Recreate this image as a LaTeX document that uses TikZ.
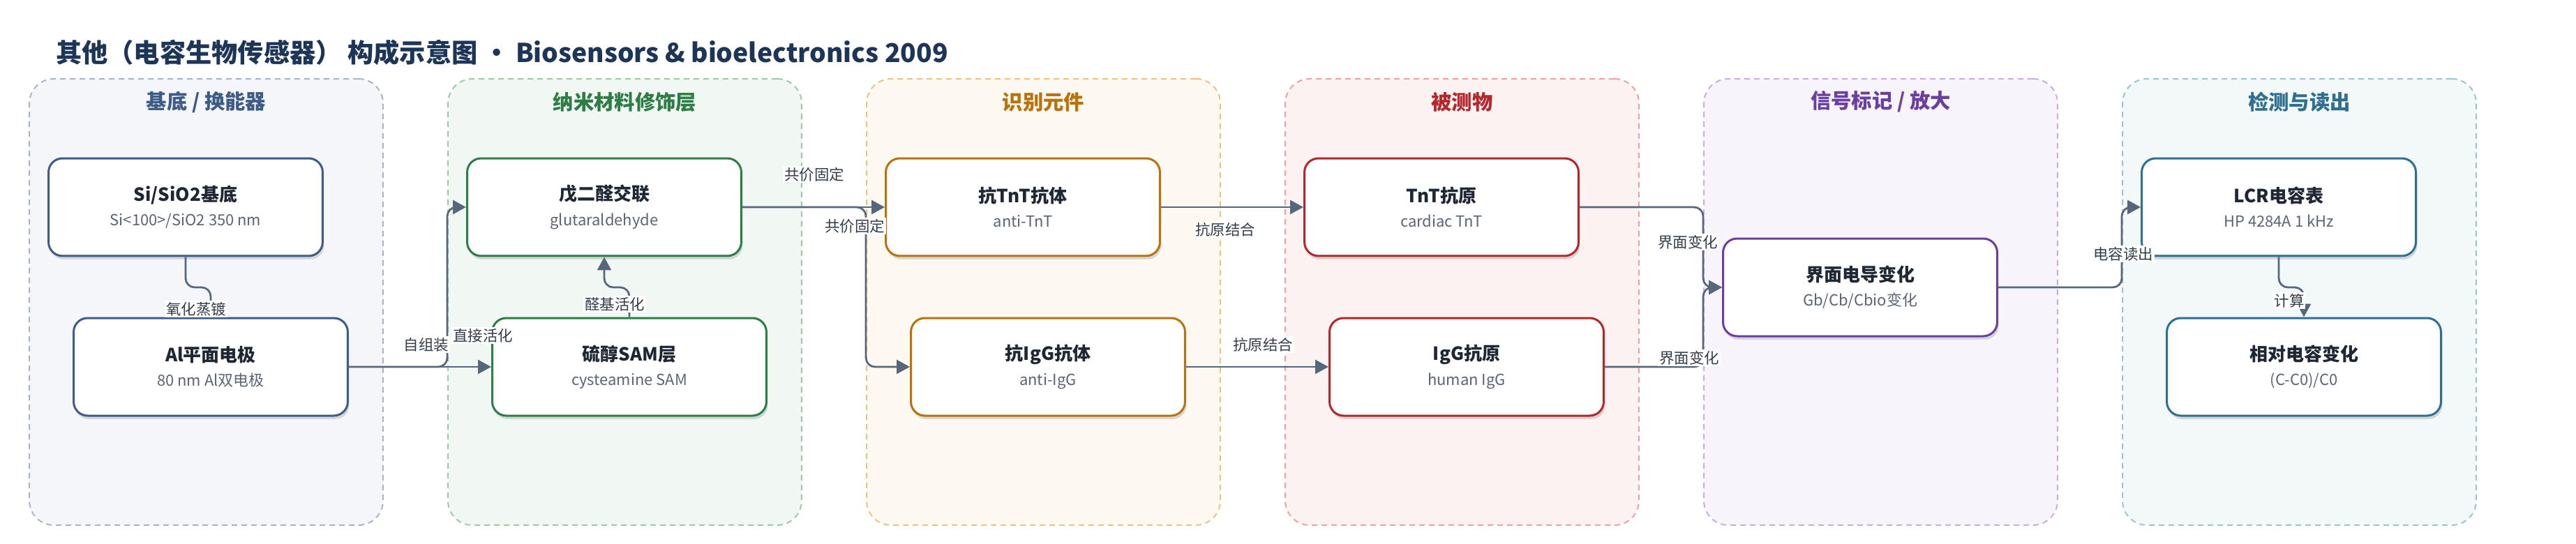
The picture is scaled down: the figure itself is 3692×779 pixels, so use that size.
\documentclass[tikz,border=0pt]{standalone}
\usepackage{fontspec}
\setmainfont{Noto Sans CJK SC}
\usetikzlibrary{arrows.meta,positioning,shadows}

\definecolor{ink}{HTML}{1E2733}
\definecolor{subgray}{HTML}{5B6576}
\definecolor{wire}{HTML}{56677C}
\definecolor{labink}{HTML}{333D4A}
\definecolor{headnavy}{HTML}{1D3557}
% group colours: line / fill / text
\definecolor{baseline}{HTML}{A8B5C8}\definecolor{basefill}{HTML}{F4F6FA}\definecolor{basetext}{HTML}{3E5C86}
\definecolor{nanoline}{HTML}{9DCBA8}\definecolor{nanofill}{HTML}{F1F8F3}\definecolor{nanotext}{HTML}{2E7D46}
\definecolor{recline}{HTML}{EBC287}\definecolor{recfill}{HTML}{FDF8F0}\definecolor{rectext}{HTML}{B8720E}
\definecolor{anaine}{HTML}{EBA3A3}\definecolor{anafill}{HTML}{FDF2F2}\definecolor{anatext}{HTML}{B3282C}
\definecolor{sigline}{HTML}{C8AEE3}\definecolor{sigfill}{HTML}{F7F4FB}\definecolor{sigtext}{HTML}{6B3FA0}
\definecolor{detline}{HTML}{9EC4CF}\definecolor{detfill}{HTML}{F3F8F9}\definecolor{dettext}{HTML}{2F6F8F}

\newcommand\subline{\fontsize{12.5pt}{20pt}\selectfont\color{subgray}}

\tikzset{
  group/.style n args={2}{draw=#1, fill=#2, line width=0.04cm, dash pattern=on 0.16cm off 0.12cm,
    rounded corners=0.7cm, minimum width=10.14cm, minimum height=12.8cm},
  gtitle/.style={text=#1, font=\fontsize{16.7pt}{18pt}\selectfont\bfseries},
  card/.style={draw=#1, fill=white, line width=0.06cm, rounded corners=0.4cm,
    minimum width=7.86cm, minimum height=2.8cm, align=center, text=ink,
    font=\fontsize{14.8pt}{20pt}\selectfont,
    drop shadow={shadow xshift=0.04cm, shadow yshift=-0.1cm, opacity=0.13, fill=black}},
  flow/.style={draw=wire, line width=0.055cm, rounded corners=0.26cm,
    -{Triangle[length=0.38cm,width=0.4cm]}},
  elabel/.style={fill=white, text=labink, inner sep=1pt, font=\fontsize{12.2pt}{14pt}\selectfont}
}

\begin{document}
\begin{tikzpicture}[x=0.02cm, y=-0.02cm]
\useasboundingbox (0,0) rectangle (3692,779);

\node[anchor=west, text=headnavy, font=\fontsize{21.2pt}{24pt}\selectfont\bfseries] (title) at (74,75)
  {其他（电容生物传感器） 构成示意图 · Biosensors \& bioelectronics 2009};

% groups
\node[group={baseline}{basefill}] (g1) at (295.5,433) {};
\node[group={nanoline}{nanofill}] (g2) at (895.5,433) {};
\node[group={recline}{recfill}] (g3) at (1495.5,433) {};
\node[group={anaine}{anafill}] (g4) at (2095.5,433) {};
\node[group={sigline}{sigfill}] (g5) at (2695.5,433) {};
\node[group={detline}{detfill}] (g6) at (3295.5,433) {};

\node[gtitle=basetext] (t1) at (295.5,146) {基底 / 换能器};
\node[gtitle=nanotext] (t2) at (895.5,146) {纳米材料修饰层};
\node[gtitle=rectext] (t3) at (1495.5,146) {识别元件};
\node[gtitle=anatext] (t4) at (2095.5,146) {被测物};
\node[gtitle=sigtext] (t5) at (2695.5,146) {信号标记 / 放大};
\node[gtitle=dettext] (t6) at (3295.5,146) {检测与读出};

% boxes
\node[card=basetext] (si) at (266,297) {\textbf{Si/SiO2基底}\\{\subline Si<100>/SiO2 350 nm}};
\node[card=basetext] (al) at (302,526) {\textbf{Al平面电极}\\{\subline 80 nm Al双电极}};
\node[card=nanotext] (glu) at (866,297) {\textbf{戊二醛交联}\\{\subline glutaraldehyde}};
\node[card=nanotext] (sam) at (902,526) {\textbf{硫醇SAM层}\\{\subline cysteamine SAM}};
\node[card=rectext] (atnt) at (1466,297) {\textbf{抗TnT抗体}\\{\subline anti-TnT}};
\node[card=rectext] (aigg) at (1502,526) {\textbf{抗IgG抗体}\\{\subline anti-IgG}};
\node[card=anatext] (tnt) at (2066,297) {\textbf{TnT抗原}\\{\subline cardiac TnT}};
\node[card=anatext] (igg) at (2102,526) {\textbf{IgG抗原}\\{\subline human IgG}};
\node[card=sigtext] (sig) at (2666,412) {\textbf{界面电导变化}\\{\subline Gb/Cb/Cbio变化}};
\node[card=dettext] (lcr) at (3266,297) {\textbf{LCR电容表}\\{\subline HP 4284A 1 kHz}};
\node[card=dettext] (rel) at (3302,526) {\textbf{相对电容变化}\\{\subline (C-C0)/C0}};

\coordinate (mid) at (0,412);

% connectors
\draw[flow] (si.south) -- (si.south |- mid) -- (al.north |- mid) -- (al.north);
\draw[flow] (al.east) -- (sam.west);
\draw[flow] (al.east) -- (al.east -| g2.west) -- (g2.west |- glu.west) -- (glu.west);
\draw[flow] (sam.north) -- (sam.north |- mid) -- (glu.south |- mid) -- (glu.south);
\draw[flow] (glu.east) -- (atnt.west);
\draw[flow] (glu.east) -- (glu.east -| g3.west) -- (g3.west |- aigg.west) -- (aigg.west);
\draw[flow] (atnt.east) -- (tnt.west);
\draw[flow] (aigg.east) -- (igg.west);
\draw[flow] (tnt.east) -- (tnt.east -| g5.west) -- (g5.west |- sig.west) -- (sig.west);
\draw[flow] (igg.east) -- (igg.east -| g5.west) -- (g5.west |- sig.west) -- (sig.west);
\draw[flow] (sig.east) -- (sig.east -| g6.west) -- (g6.west |- lcr.west) -- (lcr.west);
\draw[flow] (lcr.south) -- (lcr.south |- mid) -- (rel.north |- mid) -- (rel.north);

% connector labels
\node[elabel] (l1) at (281,443) {氧化蒸镀};
\node[elabel] (l2) at (611,494) {自组装};
\node[elabel] (l3) at (692,481) {直接活化};
\node[elabel] (l4) at (881,436) {醛基活化};
\node[elabel] (l5) at (1167,250) {共价固定};
\node[elabel] (l6) at (1225,324) {共价固定};
\node[elabel] (l7) at (1756,329) {抗原结合};
\node[elabel] (l8) at (1810,494) {抗原结合};
\node[elabel] (l9) at (2419,347) {界面变化};
\node[elabel] (l10) at (2421,513) {界面变化};
\node[elabel] (l11) at (3043,364) {电容读出};
\node[elabel] (l12) at (3281,431) {计算};
\end{tikzpicture}
\end{document}
